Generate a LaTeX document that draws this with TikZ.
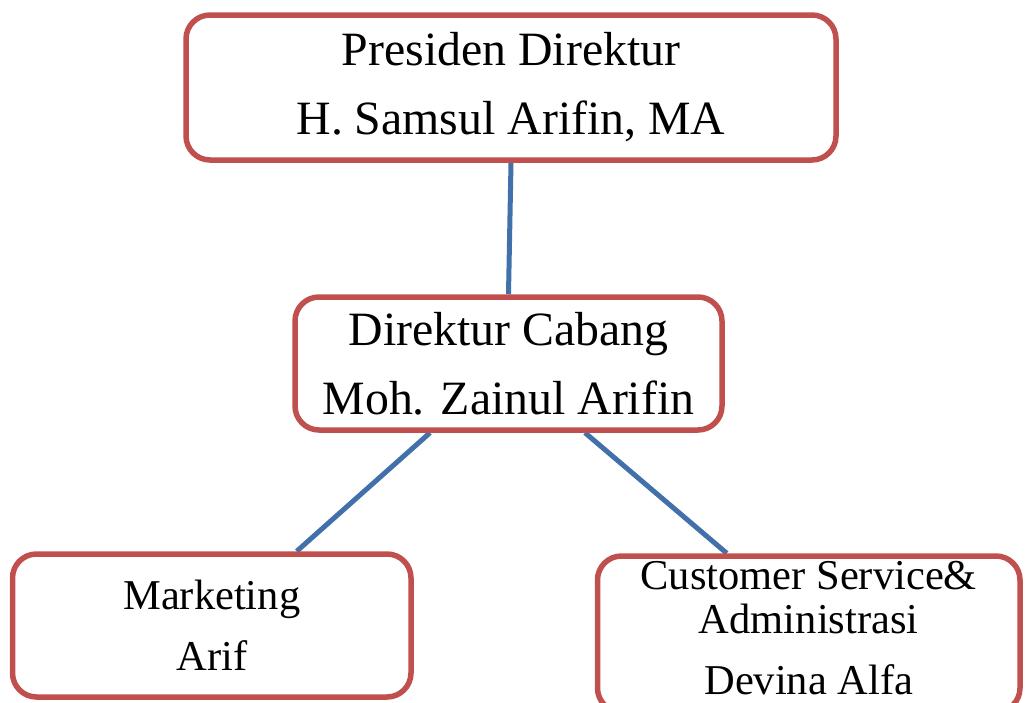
\documentclass[tikz,border=0pt]{standalone}
\usepackage{fontspec}
\setmainfont{Liberation Serif}
\usetikzlibrary{backgrounds}
\definecolor{boxred}{HTML}{C0504D}
\definecolor{lineblue}{HTML}{4170AA}

\begin{document}
\begin{tikzpicture}[x=1pt,y=-1pt,
  box/.style={draw=boxred,line width=5.5pt,rounded corners=24pt,fill=white,align=center,inner sep=0pt},
  bigtext/.style={font=\fontsize{47.8}{69}\selectfont},
  smalltext/.style={font=\fontsize{42.5}{61}\selectfont},
  link/.style={draw=lineblue,line width=5pt}]
  \useasboundingbox (0,0) rectangle (1025,702);
  % boxes
  \node[box,bigtext,minimum width=650pt,minimum height=145pt] (presdir) at (511,87.5) {Presiden Direktur\\H. Samsul Arifin, MA};
  \node[box,bigtext,minimum width=427pt,minimum height=133pt] (dircab) at (508.5,363.5) {Direktur Cabang\\Moh. Zainul Arifin};
  \node[box,smalltext,minimum width=398.5pt,minimum height=143pt] (marketing) at (211.75,625.5) {Marketing\\Arif};
  \node[box,font=\fontsize{42.5}{44}\selectfont,minimum width=422.5pt,minimum height=156pt,text depth=12pt] (custserv) at (808.75,634) {Customer Service\&\\Administrasi\\[17pt]Devina Alfa};
  % connectors
  \begin{scope}[on background layer]
    \draw[link] (presdir.south) -- (dircab.north);
    \draw[link] ([xshift=-78.5pt]dircab.south) -- ([xshift=85pt]marketing.north);
    \draw[link] ([xshift=76.5pt]dircab.south) -- ([xshift=-82pt]custserv.north);
  \end{scope}
\end{tikzpicture}
\end{document}
